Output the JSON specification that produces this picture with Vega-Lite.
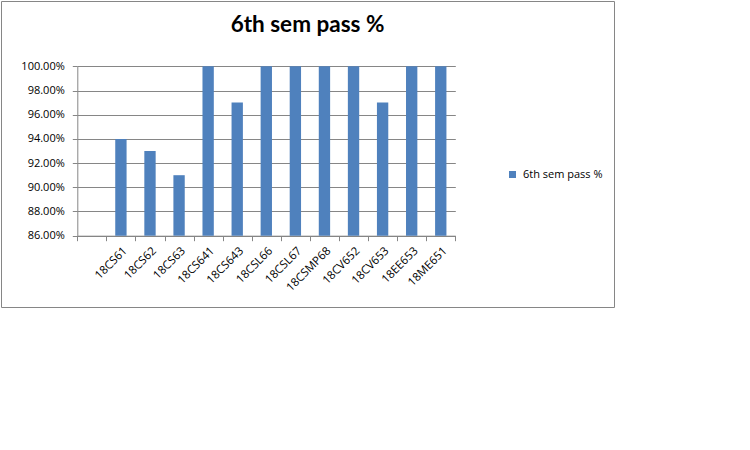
{
  "$schema": "https://vega.github.io/schema/vega-lite/v6.json",
  "autosize": {"type": "none"},
  "padding": {"left": 1, "top": 1, "right": 2, "bottom": 2},
  "width": 613,
  "height": 306,
  "background": "white",
  "title": {
    "text": "6th sem pass %",
    "font": "Lato",
    "fontSize": 22.5,
    "fontWeight": "bold",
    "color": "#000000",
    "anchor": "middle",
    "frame": "group",
    "baseline": "alphabetic",
    "offset": -53
  },
  "config": {
    "view": {"stroke": "#868686", "strokeWidth": 1, "fill": "white"},
    "axis": {
      "labelFont": "Open Sans",
      "labelFontSize": 11,
      "labelColor": "#000000",
      "domainColor": "#868686",
      "tickColor": "#868686",
      "gridColor": "#868686",
      "gridOpacity": 1,
      "domainWidth": 1,
      "tickWidth": 1,
      "gridWidth": 1
    },
    "legend": {
      "labelFont": "Open Sans",
      "labelFontSize": 11,
      "labelColor": "#000000"
    }
  },
  "data": {
    "values": [
      {"course": "18CS61", "pass": 0.94},
      {"course": "18CS62", "pass": 0.93},
      {"course": "18CS63", "pass": 0.91},
      {"course": "18CS641", "pass": 1.0},
      {"course": "18CS643", "pass": 0.97},
      {"course": "18CSL66", "pass": 1.0},
      {"course": "18CSL67", "pass": 1.0},
      {"course": "18CSMP68", "pass": 1.0},
      {"course": "18CV652", "pass": 1.0},
      {"course": "18CV653", "pass": 0.97},
      {"course": "18EE653", "pass": 1.0},
      {"course": "18ME651", "pass": 1.0}
    ]
  },
  "mark": {"type": "bar", "width": {"band": 0.39}},
  "encoding": {
    "x": {
      "field": "course",
      "type": "nominal",
      "sort": null,
      "scale": {
        "domain": ["", "18CS61", "18CS62", "18CS63", "18CS641", "18CS643", "18CSL66", "18CSL67", "18CSMP68", "18CV652", "18CV653", "18EE653", "18ME651"],
        "range": [76.3, 454.3],
        "paddingInner": 0,
        "paddingOuter": 0
      },
      "axis": {
        "title": null,
        "offset": -71.3,
        "tickBand": "extent",
        "tickSize": 5,
        "labelAngle": -45,
        "labelPadding": 4,
        "labelFontSize": 11.5,
        "grid": false
      }
    },
    "y": {
      "field": "pass",
      "type": "quantitative",
      "scale": {"domain": [0.86, 1.0], "range": [234.7, 65.3], "zero": false, "nice": false},
      "axis": {
        "title": null,
        "offset": -76.3,
        "values": [0.86, 0.88, 0.9, 0.92, 0.94, 0.96, 0.98, 1.0],
        "format": ".2%",
        "tickSize": 5,
        "labelPadding": 8,
        "grid": true
      }
    },
    "y2": {"datum": 0.86},
    "color": {
      "datum": "6th sem pass %",
      "scale": {"range": ["#4F81BD"]},
      "legend": {
        "title": null,
        "orient": "none",
        "legendX": 506,
        "legendY": 168,
        "padding": 0,
        "symbolType": "square",
        "symbolSize": 49,
        "symbolStrokeWidth": 0,
        "labelOffset": 5
      }
    }
  }
}
